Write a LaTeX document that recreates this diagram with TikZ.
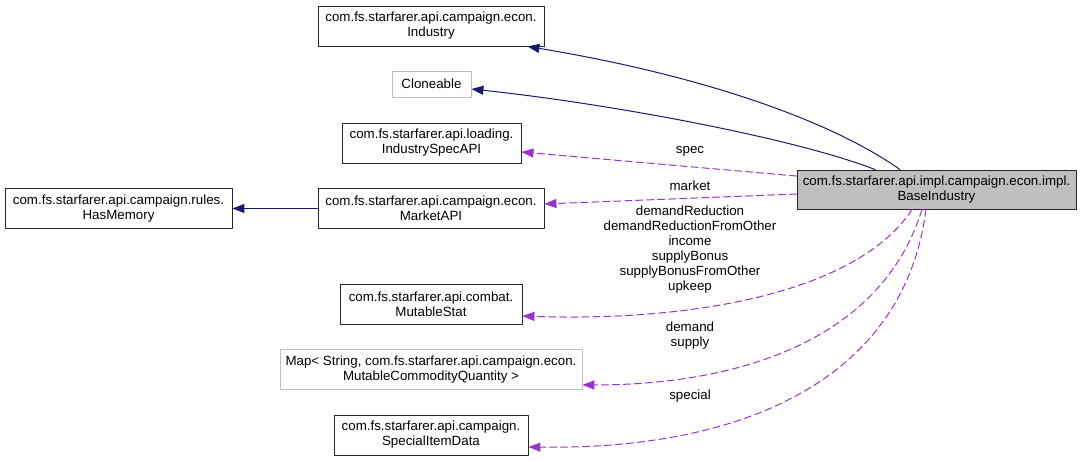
\documentclass[tikz,border=0pt]{standalone}
\usepackage{fontspec}
\setmainfont{Liberation Sans}
\usetikzlibrary{arrows.meta}
\definecolor{navy}{HTML}{191970}
\definecolor{orchid}{HTML}{9A32CD}
\definecolor{greybox}{HTML}{BFBFBF}
\begin{document}
\begin{tikzpicture}[line cap=round,line join=round,>={Triangle[length=9pt,width=6.75pt]},x=0.75pt,y=-0.75pt,
	every node/.style={font=\fontsize{10}{11.25}\selectfont},
	cls/.style={draw=black!85,line width=0.65pt,align=center,inner sep=0pt,minimum height=30pt},
	ext/.style={cls,draw=greybox},
	inherit/.style={->,navy,line width=0.75pt},
	uses/.style={->,orchid,line width=0.75pt,dash pattern=on 5.25pt off 3pt},
	lbl/.style={align=center,inner sep=0pt}]
			\useasboundingbox (0,0) rectangle (1081,461);
			%classe principale
			\node[cls,fill=greybox,minimum width=209.25pt,minimum height=29.25pt] (base) at (936.5,189.5) {com.fs.starfarer.api.impl.campaign.econ.impl.\\BaseIndustry};
			%colonne du milieu
			\node[cls,minimum width=169.5pt] (industry) at (431,26) {com.fs.starfarer.api.campaign.econ.\\Industry};
			\node[ext,minimum width=59.25pt,minimum height=19.5pt] (cloneable) at (431.5,84) {Cloneable};
			\node[cls,minimum width=134.25pt] (spec) at (431.5,143) {com.fs.starfarer.api.loading.\\IndustrySpecAPI};
			\node[cls,minimum width=169.5pt] (market) at (431,208.5) {com.fs.starfarer.api.campaign.econ.\\MarketAPI};
			\node[cls,minimum width=136.5pt] (stat) at (431,304) {com.fs.starfarer.api.combat.\\MutableStat};
			\node[ext,minimum width=226.5pt] (map) at (431,369.5) {Map< String, com.fs.starfarer.api.campaign.econ.\\MutableCommodityQuantity >};
			\node[cls,minimum width=145.5pt] (special) at (431,435) {com.fs.starfarer.api.campaign.\\SpecialItemData};
			%colonne de gauche
			\node[cls,minimum width=170.25pt] (memory) at (118.5,208.5) {com.fs.starfarer.api.campaign.rules.\\HasMemory};
			%heritage
			\draw[inherit] ([xshift=-27.4pt]base.north) .. controls (830,120) and (700,75) .. ([xshift=-12.75pt]industry.south east);
			\draw[inherit] ([xshift=-46.1pt]base.north) .. controls (800,140) and (620,105) .. ([yshift=-3.75pt]cloneable.east);
			\draw[inherit] (market.west) -- (memory.east);
			%attributs
			\draw[uses] ([yshift=10.1pt]base.west) -- ([yshift=-6.75pt]spec.east);
			\draw[uses] ([yshift=-3.4pt]base.west) -- ([yshift=3.4pt]market.east);
			\draw[uses] ([xshift=-18.4pt]base.south) .. controls (860,290) and (700,322) .. ([yshift=-9pt]stat.east);
			\draw[uses] ([xshift=-10.9pt]base.south) .. controls (880,345) and (730,385) .. ([yshift=-11.6pt]map.east);
			\draw[uses] ([xshift=-7.9pt]base.south) .. controls (905,375) and (750,450) .. ([yshift=-9pt]special.east);
			%etiquettes
			\node[lbl] (lspec) at (690,151) {spec};
			\node[lbl] (lmarket) at (690,186) {market};
			\node[lbl] (lstat) at (690,249.5) {demandReduction\\demandReductionFromOther\\income\\supplyBonus\\supplyBonusFromOther\\upkeep};
			\node[lbl] (lmap) at (690,335.5) {demand\\supply};
			\node[lbl] (lspecial) at (690,396) {special};
	\end{tikzpicture}
\end{document}
